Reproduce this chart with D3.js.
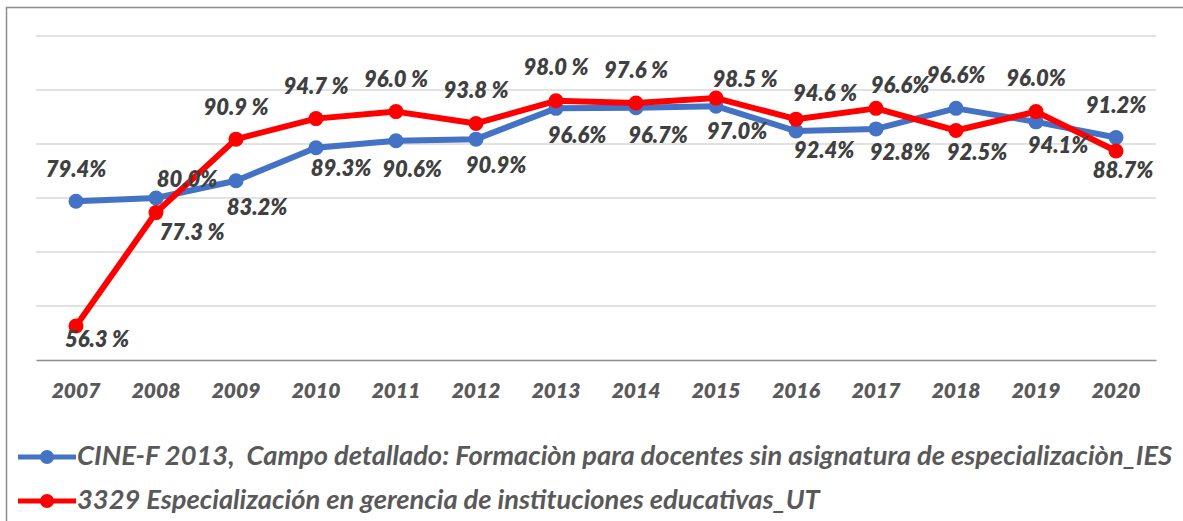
<!DOCTYPE html>
<html>
  <head>
    <meta charset="utf-8">
    <script src="https://cdn.jsdelivr.net/npm/d3@7"></script>
    <style>
      body { margin: 0; background: #fff; }
      text { font-family: Lato, "Open Sans", sans-serif; font-style: italic; font-weight: 800; }
    </style>
  </head>
  <body>
    <div id="vis"></div>
    <script type="text/javascript">

        const years = ["2007", "2008", "2009", "2010", "2011", "2012", "2013",
                       "2014", "2015", "2016", "2017", "2018", "2019", "2020"];

        const cineValues = [79.4, 80.0, 83.2, 89.3, 90.6, 90.9, 96.6, 96.7, 97.0, 92.4, 92.8, 96.6, 94.1, 91.2];
        const utValues   = [56.3, 77.3, 90.9, 94.7, 96.0, 93.8, 98.0, 97.6, 98.5, 94.6, 96.6, 92.5, 96.0, 88.7];

        const cineLabels = ["79.4%", "80.0%", "83.2%", "89.3%", "90.6%", "90.9%", "96.6%",
                            "96.7%", "97.0%", "92.4%", "92.8%", "96.6%", "94.1%", "91.2%"];
        const utLabels   = ["56.3 %", "77.3 %", "90.9 %", "94.7 %", "96.0 %", "93.8 %", "98.0 %",
                            "97.6 %", "98.5 %", "94.6 %", "96.6%", "92.5%", "96.0%", "88.7%"];

        const seriesNames = [
            "CINE-F 2013,  Campo detallado: Formaciòn para docentes sin asignatura de especializaciòn_IES",
            "3329 Especialización en gerencia de instituciones educativas_UT"
        ];

        const yTicks = [50, 60, 70, 80, 90, 100, 110];

        // label nudges (dx, baseline dy) relative to each marker, as placed in the original
        const cineNudge = [[0, -24], [31, -11], [21, 34], [25, 28], [16, 36], [20, 34], [21, 35],
                           [22, 35], [21, 33], [28, 27], [24, 31], [0, -25], [22, 31], [0, -25]];
        const utNudge   = [[21, 21], [36, 27], [0, -24], [0, -25], [0, -25], [0, -25], [0, -26],
                           [0, -25], [29, -11], [29, -18], [24, -15], [21, 29], [0, -26], [7, 27]];

        const W = 1183, H = 521;
        const svg = d3.select("#vis").append("svg")
            .attr("width", W)
            .attr("height", H);

        // chart frame
        svg.append("rect")
            .attr("x", 6.5).attr("y", 7.5)
            .attr("width", 1200).attr("height", 540)
            .attr("fill", "none")
            .attr("stroke", "#8c8c8c")
            .attr("stroke-width", 1.5);

        const x = d3.scaleBand().domain(years).range([36, 1156]).padding(0);
        const y = d3.scaleLinear().domain([50, 110]).range([360, 36]);
        const cx = d => x(d) + x.bandwidth() / 2;

        // gridlines
        svg.append("g").selectAll("line")
            .data(yTicks.slice(1))
            .enter().append("line")
            .attr("x1", 36).attr("x2", 1156)
            .attr("y1", d => y(d)).attr("y2", d => y(d))
            .attr("stroke", "#d9d9d9")
            .attr("stroke-width", 1.5);

        const xAxis = svg.append("g")
            .attr("transform", `translate(0,${y(50)})`)
            .call(d3.axisBottom(x).tickSize(0).tickSizeOuter(0));
        xAxis.select(".domain").attr("stroke", "#8c8c8c").attr("stroke-width", 1.5);
        xAxis.selectAll("text")
            .attr("y", 38).attr("dy", 0)
            .attr("fill", "#595959")
            .style("font-size", "21px")
            .style("font-family", "Lato, 'Open Sans', sans-serif");

        const series = [
            {values: cineValues, labels: cineLabels, nudge: cineNudge, color: "#4472C4"},
            {values: utValues, labels: utLabels, nudge: utNudge, color: "#FF0000"}
        ];

        const line = d3.line()
            .x((d, i) => cx(years[i]))
            .y(d => y(d));

        series.forEach(s => {
            const g = svg.append("g");
            g.append("path")
                .datum(s.values)
                .attr("d", line)
                .attr("fill", "none")
                .attr("stroke", s.color)
                .attr("stroke-width", 6)
                .attr("stroke-linejoin", "round");
            g.selectAll("circle")
                .data(s.values)
                .enter().append("circle")
                .attr("cx", (d, i) => cx(years[i]))
                .attr("cy", d => y(d))
                .attr("r", 7.5)
                .attr("fill", s.color);
        });

        series.forEach(s => {
            svg.append("g").selectAll("text")
                .data(s.values)
                .enter().append("text")
                .attr("x", (d, i) => cx(years[i]) + s.nudge[i][0])
                .attr("y", (d, i) => y(d) + s.nudge[i][1])
                .attr("text-anchor", "middle")
                .attr("fill", "#404040")
                .style("font-size", "22px")
                .text((d, i) => s.labels[i]);
        });

        // legend
        const legendY = [457, 501];
        const legend = svg.append("g");
        const legendTexts = [];
        series.forEach((s, i) => {
            legend.append("line")
                .attr("x1", 18).attr("x2", 76)
                .attr("y1", legendY[i]).attr("y2", legendY[i])
                .attr("stroke", s.color)
                .attr("stroke-width", 5);
            legend.append("circle")
                .attr("cx", 47).attr("cy", legendY[i])
                .attr("r", 7)
                .attr("fill", s.color);
            legendTexts.push(legend.append("text")
                .attr("x", 77)
                .attr("y", legendY[i] + 8)
                .attr("fill", "#595959")
                .style("font-weight", "bold")
                .style("white-space", "pre")
                .style("font-size", "22px")
                .text(seriesNames[i]));
        });
        const w0 = legendTexts[0].node().getComputedTextLength();
        const fs = 22 * 1096 / w0;
        legendTexts.forEach(t => t.style("font-size", fs + "px"));

    </script>
  </body>
</html>
